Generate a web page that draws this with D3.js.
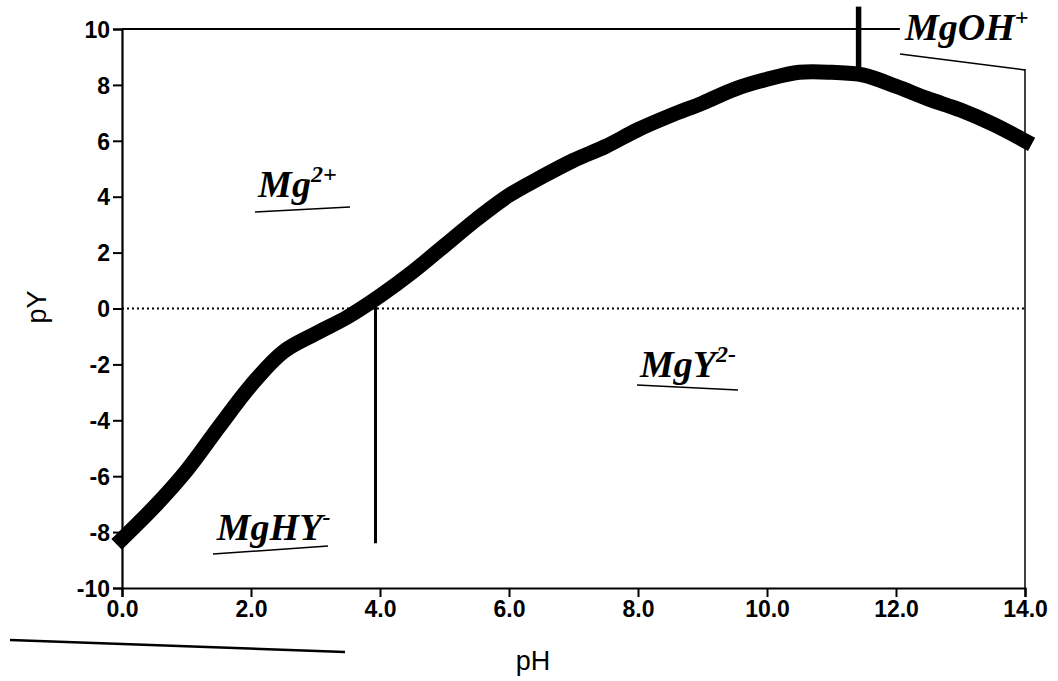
<!DOCTYPE html>
<html>
<head>
<meta charset="utf-8">
<script src="https://cdn.jsdelivr.net/npm/d3@7"></script>
<style>
  body { margin: 0; background: #fff; }
  svg { display: block; }
</style>
</head>
<body>
<script>
// pY vs pH for Mg-EDTA
var phValues = [0, 0.5, 1, 1.5, 2, 2.5, 3, 3.5, 4, 4.5, 5, 5.5, 6, 6.5, 7, 7.5, 8, 8.5, 9, 9.5, 10, 10.5, 11, 11.5, 12, 12.5, 13, 13.5, 14];
var pyValues = [-8.25, -7.1, -5.8, -4.25, -2.75, -1.55, -0.9, -0.3, 0.45, 1.3, 2.25, 3.2, 4.05, 4.7, 5.3, 5.8, 6.4, 6.9, 7.35, 7.85, 8.2, 8.45, 8.45, 8.35, 7.95, 7.5, 7.1, 6.6, 6.0];

var xTicks = [0, 2, 4, 6, 8, 10, 12, 14];
var yTicks = [-10, -8, -6, -4, -2, 0, 2, 4, 6, 8, 10];

// species labels: name, superscript, pH, pY (baseline-left)
var speciesNames = ["Mg", "MgY", "MgHY", "MgOH"];
var speciesCharges = ["2+", "2-", "-", "+"];
var speciesPh = [2.11, 8.03, 1.47, 12.14];
var speciesPy = [3.99, -2.45, -8.28, 9.6];

// boundaries between predominance regions
var boundaryPh = [3.93, 11.42];
var boundaryTop = [0.2, 10.8];
var boundaryBottom = [-8.4, 8.6];

var width = 1058, height = 681;
var svg = d3.select("body").append("svg")
  .attr("width", width)
  .attr("height", height);

var x = d3.scaleLinear().domain([0, 14]).range([122, 1025]);
var y = d3.scaleLinear().domain([-10, 10]).range([588, 29]);

var tickFont = "'Liberation Sans', Arial, sans-serif";

// zero line (dotted)
svg.append("line")
  .attr("x1", x(0)).attr("x2", x(14))
  .attr("y1", y(0)).attr("y2", y(0))
  .attr("stroke", "#000").attr("stroke-width", 2)
  .attr("stroke-dasharray", "2,3");

// top frame line (stops before the MgOH+ label) and right frame line
svg.append("line")
  .attr("x1", x(0)).attr("x2", x(12.06))
  .attr("y1", y(10)).attr("y2", y(10))
  .attr("stroke", "#000").attr("stroke-width", 2);
svg.append("line")
  .attr("x1", x(14)).attr("x2", x(14))
  .attr("y1", y(8.57)).attr("y2", y(-10))
  .attr("stroke", "#000").attr("stroke-width", 1.5);

// axes
var xAxis = svg.append("g")
  .attr("transform", "translate(0," + y(-10) + ")")
  .call(d3.axisBottom(x).tickValues(xTicks).tickFormat(d3.format(".1f")).tickSize(9).tickPadding(4));
var yAxis = svg.append("g")
  .attr("transform", "translate(" + x(0) + ",0)")
  .call(d3.axisLeft(y).tickValues(yTicks).tickFormat(function(d) { return String(d); }).tickSize(9).tickPadding(3));

[xAxis, yAxis].forEach(function(g) {
  g.select(".domain").attr("stroke-width", 2.2);
  g.selectAll(".tick line").attr("stroke-width", 2);
  g.selectAll(".tick text")
    .attr("font-family", tickFont)
    .attr("font-weight", "bold")
    .attr("font-size", 23)
    .attr("fill", "#000");
});
yAxis.selectAll(".tick text").attr("dy", "0.36em");

// axis titles
svg.append("text")
  .attr("x", 533).attr("y", 670)
  .attr("text-anchor", "middle")
  .attr("font-family", tickFont)
  .attr("font-size", 27)
  .text("pH");
svg.append("text")
  .attr("transform", "translate(46,307) rotate(-90)")
  .attr("text-anchor", "middle")
  .attr("font-family", tickFont)
  .attr("font-size", 27)
  .text("pY");

// boundary lines
svg.selectAll(".boundary")
  .data(boundaryPh)
  .enter().append("line")
  .attr("class", "boundary")
  .attr("x1", function(d) { return x(d); })
  .attr("x2", function(d) { return x(d); })
  .attr("y1", function(d, i) { return y(boundaryTop[i]); })
  .attr("y2", function(d, i) { return y(boundaryBottom[i]); })
  .attr("stroke", "#000")
  .attr("stroke-width", function(d, i) { return i == 0 ? 3 : 5.5; });

// the curve, drawn thick like the blocky plotted squares
var pts = phValues.map(function(d, i) { return [d, pyValues[i]]; });
var line = d3.line()
  .x(function(d) { return x(d[0]); })
  .y(function(d) { return y(d[1]); })
  .curve(d3.curveCatmullRom.alpha(0.5));
svg.append("path")
  .datum(pts)
  .attr("d", line)
  .attr("fill", "none")
  .attr("stroke", "#000")
  .attr("stroke-width", 15)
  .attr("stroke-linejoin", "round")
  .attr("stroke-linecap", "square");

// species labels
var labelFont = "'Liberation Serif', 'Times New Roman', serif";
var lab = svg.selectAll(".species")
  .data(speciesNames)
  .enter().append("text")
  .attr("class", "species")
  .attr("x", function(d, i) { return x(speciesPh[i]); })
  .attr("y", function(d, i) { return y(speciesPy[i]); })
  .attr("font-family", labelFont)
  .attr("font-weight", "bold")
  .attr("font-style", "italic")
  .attr("font-size", 38);
lab.append("tspan").text(function(d) { return d; });
lab.append("tspan")
  .attr("font-size", 24)
  .attr("dy", -15)
  .text(function(d, i) { return speciesCharges[i]; });

// hand-drawn underlines under the labels
var underlines = [
  [[255, 212], [350, 207]],
  [[637, 385], [738, 390]],
  [[213, 554], [328, 546]],
  [[900, 54], [1025, 70]],
  [[10, 640], [345, 652]]
];
svg.selectAll(".uline")
  .data(underlines)
  .enter().append("line")
  .attr("class", "uline")
  .attr("x1", function(d) { return d[0][0]; })
  .attr("y1", function(d) { return d[0][1]; })
  .attr("x2", function(d) { return d[1][0]; })
  .attr("y2", function(d) { return d[1][1]; })
  .attr("stroke", "#000")
  .attr("stroke-width", function(d, i) { return i == 4 ? 2.5 : 1.5; });
</script>
</body>
</html>
